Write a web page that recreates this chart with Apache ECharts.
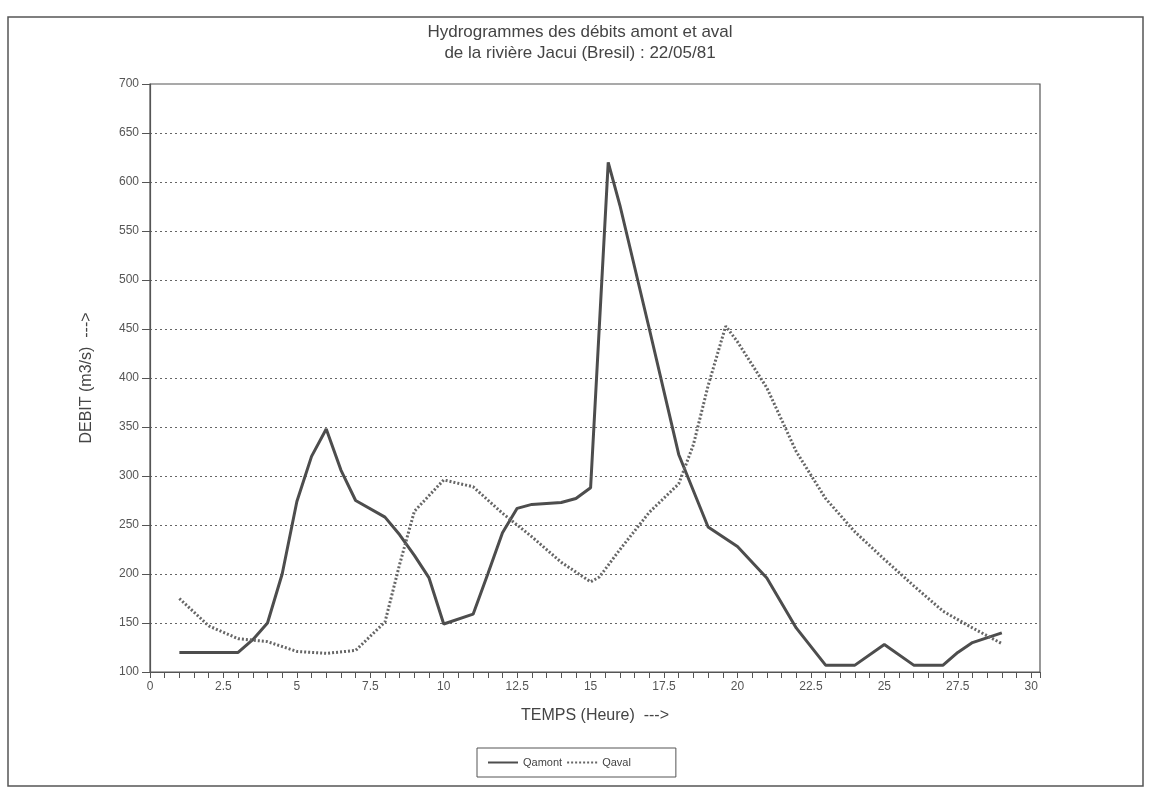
<!DOCTYPE html>
<html>
<head>
<meta charset="utf-8">
<script src="https://cdn.jsdelivr.net/npm/echarts@6/dist/echarts.min.js"></script>
<style>
html,body{margin:0;padding:0;background:#fff;}
#chart{width:1153px;height:789px;}
</style>
</head>
<body>
<div id="chart"></div>
<script>
// Qamont (upstream discharge) : time in hours, discharge in m3/s
const amontT = [1, 2, 3, 3.5, 4, 4.5, 5, 5.5, 6, 6.5, 7, 8, 8.5, 9, 9.5, 10, 11, 11.5, 12, 12.5, 13, 14, 14.5, 15, 15.6, 16, 17, 18, 19, 20, 21, 22, 23, 24, 25, 26, 27, 27.5, 28, 29];
const amontQ = [120, 120, 120, 133, 150, 200, 274, 320, 348, 306, 275, 258, 240, 219, 196, 149, 159, 200, 242, 267, 271, 273, 277, 288, 620, 576, 450, 322, 248, 228, 196, 145, 107, 107, 128, 107, 107, 120, 130, 140];
// Qaval (downstream discharge)
const avalT = [1, 2, 3, 4, 5, 6, 7, 8, 8.5, 9, 10, 11, 12, 13, 14, 15, 15.3, 16, 17, 18, 18.5, 19, 19.6, 20, 21, 22, 23, 24, 25, 26, 27, 28, 29];
const avalQ = [175, 147, 134, 131, 121, 119, 122, 151, 210, 264, 296, 289, 262, 238, 212, 192, 197, 225, 263, 292, 332, 392, 453, 437, 390, 325, 277, 243, 215, 188, 162, 145, 129];

const titleLines = ['Hydrogrammes des débits amont et aval', 'de la rivière Jacui (Bresil) : 22/05/81'];
const xName = 'TEMPS (Heure)  --->';
const yName = 'DEBIT (m3/s)  --->';
const seriesNames = ['Qamont', 'Qaval'];

const pairs = (t, q) => t.map((v, i) => [v, q[i]]);
const FONT = '"Liberation Sans", Arial, sans-serif';
const INK = '#444';

const chart = echarts.init(document.getElementById('chart'), null, {renderer: 'canvas'});
chart.setOption({
  backgroundColor: '#fff',
  animation: false,
  graphic: [
    {type: 'rect', silent: true, shape: {x: 8, y: 17, width: 1135, height: 769},
     style: {fill: 'none', stroke: '#555', lineWidth: 1.5}},
    {type: 'text', x: 580, y: 22, silent: true,
     style: {text: titleLines.join('\n'), fill: INK, font: '17px ' + FONT,
             textAlign: 'center', textVerticalAlign: 'top', lineHeight: 21}}
  ],
  grid: {left: 150, right: 113, top: 84, bottom: 117, show: true,
         borderColor: '#555', borderWidth: 1.2, backgroundColor: 'transparent'},
  legend: {
    data: seriesNames, left: 477, top: 748, orient: 'horizontal',
    padding: [9, 45, 9, 10], itemGap: 4, itemWidth: 30, itemHeight: 12,
    borderColor: '#555', borderWidth: 1, backgroundColor: '#fff',
    itemStyle: {color: 'rgba(0,0,0,0)', borderColor: 'rgba(0,0,0,0)', borderWidth: 0},
    textStyle: {color: INK, fontSize: 11, fontFamily: FONT}
  },
  xAxis: {
    type: 'value', min: 0, max: 30.3, interval: 0.5,
    name: xName, nameLocation: 'middle', nameGap: 36,
    nameTextStyle: {color: INK, fontSize: 16, fontFamily: FONT},
    axisLine: {lineStyle: {color: '#555', width: 1.2}},
    axisTick: {show: true, length: 6, inside: false, lineStyle: {color: '#555'}},
    axisLabel: {color: '#555', fontSize: 12, fontFamily: FONT, margin: 9,
      formatter: function (v) {
        const r = v / 2.5;
        return (Math.abs(r - Math.round(r)) < 1e-6 && v <= 30) ? String(v) : '';
      }},
    splitLine: {show: false}
  },
  yAxis: {
    type: 'value', min: 100, max: 700, interval: 50,
    name: yName, nameLocation: 'middle', nameGap: 55, nameRotate: 90,
    nameTextStyle: {color: INK, fontSize: 16, fontFamily: FONT},
    axisLine: {show: true, lineStyle: {color: '#555', width: 1.2}},
    axisTick: {show: true, length: 8, inside: false, lineStyle: {color: '#555'}},
    axisLabel: {color: '#555', fontSize: 12, fontFamily: FONT, margin: 11},
    splitLine: {show: true, showMinLine: false, showMaxLine: false,
                lineStyle: {color: '#666', width: 1, type: [2, 3]}}
  },
  series: [
    {name: seriesNames[0], type: 'line', data: pairs(amontT, amontQ),
     symbol: 'none', smooth: false,
     lineStyle: {color: '#4d4d4d', width: 3, type: 'solid'},
     itemStyle: {color: '#4d4d4d'}},
    {name: seriesNames[1], type: 'line', data: pairs(avalT, avalQ),
     symbol: 'none', smooth: false,
     lineStyle: {color: '#666', width: 3, type: [2, 2]},
     itemStyle: {color: '#666'}}
  ]
});
</script>
</body>
</html>
